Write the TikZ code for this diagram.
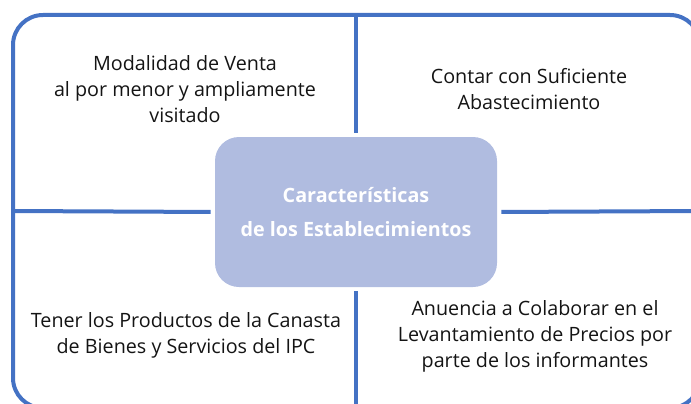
\documentclass[tikz,border=0pt]{standalone}
\usepackage{fontspec}
\setmainfont{Open Sans}
\definecolor{frameblue}{RGB}{68,114,196}
\definecolor{boxfill}{RGB}{176,188,224}
\definecolor{txt}{RGB}{20,20,20}
\begin{document}
\begin{tikzpicture}[x=0.75pt,y=-0.75pt,
  frameline/.style={draw=frameblue,line width=3pt},
  quadtext/.style={align=center,text=txt,font=\fontsize{14.8}{19.5}\selectfont},
  centerbox/.style={fill=boxfill,draw=none,rounded corners=18pt,minimum width=211.5pt,minimum height=112.5pt,align=center,text=white,font=\bfseries\fontsize{14.8}{26}\selectfont}]
\useasboundingbox (0,0) rectangle (691,403);
\begin{scope}
\clip (0,0) rectangle (691,403);
\draw[frameline,rounded corners=22.5pt] (13,15) rectangle (700,408);
\coordinate (top) at (356,15);
\coordinate (bot) at (356,408);
\coordinate (lft) at (13,211);
\coordinate (rgt) at (700,211);
\node[centerbox] (center) at (356,212) {Características\\de los Establecimientos};
\draw[frameline,shorten >=3pt] (top) -- (center.north);
\draw[frameline,shorten >=3pt] (bot) -- (center.south);
\draw[frameline,shorten >=3pt] (lft) -- (center.west);
\draw[frameline,shorten >=3pt] (rgt) -- (center.east);
\end{scope}
\node[quadtext] (tl) at (185,89) {Modalidad de Venta\\al por menor y ampliamente\\visitado};
\node[quadtext] (tr) at (529,89) {Contar con Suficiente\\Abastecimiento};
\node[quadtext] (bl) at (186,335) {Tener los Productos de la Canasta\\de Bienes y Servicios del IPC};
\node[quadtext] (br) at (535,336) {Anuencia a Colaborar en el\\Levantamiento de Precios por\\parte de los informantes};
\end{tikzpicture}
\end{document}
